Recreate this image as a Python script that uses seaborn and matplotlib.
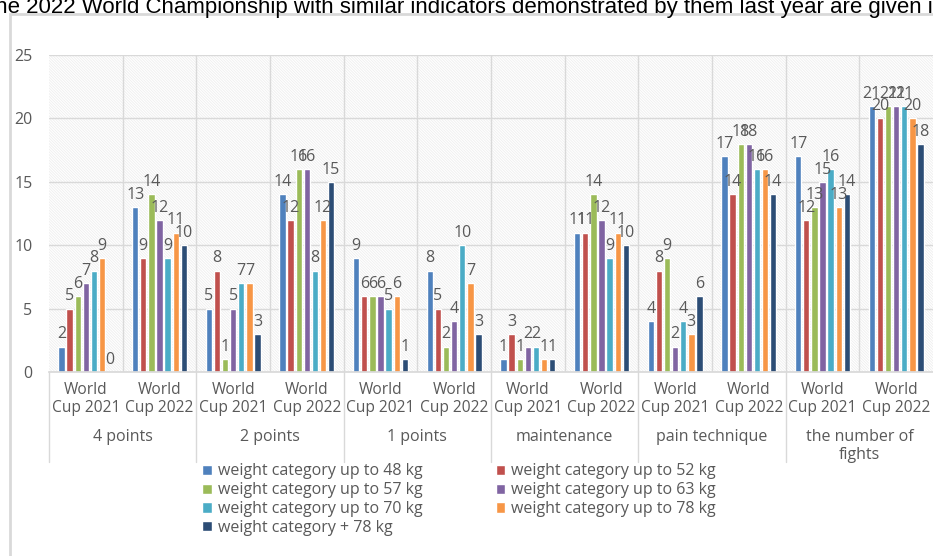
import pandas as pd
import matplotlib.pyplot as plt
import matplotlib.patches as mpatches
import seaborn as sns

# Data
categories = ["4 points", "2 points", "1 points", "maintenance", "pain technique", "the number of\nfights"]
years = ["World\nCup 2021", "World\nCup 2022"]
series = ["weight category up to 48 kg", "weight category up to 52 kg",
          "weight category up to 57 kg", "weight category up to 63 kg",
          "weight category up to 70 kg", "weight category up to 78 kg",
          "weight category + 78 kg"]

# one row per (category, year) group, values in series order
values = [
    [2, 5, 6, 7, 8, 9, 0],
    [13, 9, 14, 12, 9, 11, 10],
    [5, 8, 1, 5, 7, 7, 3],
    [14, 12, 16, 16, 8, 12, 15],
    [9, 6, 6, 6, 5, 6, 1],
    [8, 5, 2, 4, 10, 7, 3],
    [1, 3, 1, 2, 2, 1, 1],
    [11, 11, 14, 12, 9, 11, 10],
    [4, 8, 9, 2, 4, 3, 6],
    [17, 14, 18, 18, 16, 16, 14],
    [17, 12, 13, 15, 16, 13, 14],
    [21, 20, 21, 21, 21, 20, 18],
]

colors = ["#4F81BD", "#C0504D", "#9BBB59", "#8064A2", "#4BACC6", "#F79646", "#2C4D75"]

# long-form table
rows = []
group_ids = []
for i, cat in enumerate(categories):
    for j, yr in enumerate(years):
        gid = f"g{i}_{j}"
        group_ids.append(gid)
        for k, s in enumerate(series):
            rows.append({"group": gid, "series": s, "value": values[i * 2 + j][k]})
df = pd.DataFrame(rows)

sns.set_theme(style="white")
plt.rcParams["font.family"] = ["Open Sans", "DejaVu Sans"]
plt.rcParams["hatch.linewidth"] = 0.6
text_gray = "#595959"
grid_gray = "#d9d9d9"

W, H = 933, 556
fig = plt.figure(figsize=(W / 100, H / 100), dpi=100)
ax = fig.add_axes([49 / W, (H - 372) / H, (W - 49) / W, (372 - 55) / H])

# hatched plot background
ax.patch.set_facecolor("white")
ax.patch.set_hatch("\\" * 12)
ax.patch.set_edgecolor("#eeeeee")
ax.patch.set_linewidth(0)

sns.barplot(data=df, x="group", y="value", hue="series", order=group_ids,
            hue_order=series, palette=colors, width=0.77, gap=0.22,
            saturation=1, ax=ax, legend=True)

for cont in ax.containers:
    ax.bar_label(cont, padding=3, fontsize=11.5, color=text_gray)

ax.set_ylim(0, 25)
ax.set_xlim(-0.5, len(group_ids) - 0.5)
ax.set_yticks(range(0, 26, 5))
ax.set_xlabel("")
ax.set_ylabel("")
ax.tick_params(axis="y", colors=text_gray, labelsize=11.5, length=0, pad=12)
ax.tick_params(axis="x", colors=text_gray, labelsize=11.2, length=0, pad=7)
ax.set_xticks(range(len(group_ids)))
ax.set_xticklabels(years * len(categories), linespacing=1.2)

# gridlines
for yv in range(5, 26, 5):
    ax.axhline(yv, color=grid_gray, lw=1, zorder=0.5)
for xv in range(1, len(group_ids)):
    ax.axvline(xv - 0.5, color=grid_gray, lw=1, zorder=0.5)
ax.set_axisbelow(True)
for sp in ["top", "right", "left"]:
    ax.spines[sp].set_visible(False)
ax.spines["bottom"].set_color(grid_gray)

# category labels and separators below the axis
trans = ax.get_xaxis_transform()
for i, cat in enumerate(categories):
    ax.text(i * 2 + 0.5, -57 / 317, cat, transform=trans, ha="center", va="top",
            fontsize=11.5, color=text_gray, linespacing=1.15)
for i in range(len(categories)):
    ax.plot([i * 2 - 0.5, i * 2 - 0.5], [0, -90 / 317], transform=trans,
            color=grid_gray, lw=1, clip_on=False)

# legend, row-major order in two columns
handles, labels = ax.get_legend_handles_labels()
order = [0, 2, 4, 6, 1, 3, 5]
ax.legend([handles[o] for o in order], [labels[o] for o in order], ncol=2,
          loc="upper left", bbox_to_anchor=(188 / W, (H - 449) / H),
          bbox_transform=fig.transFigure, frameon=False, fontsize=11.5,
          handlelength=0.6, handleheight=0.6, handletextpad=0.35,
          columnspacing=4.6, labelspacing=0.18, labelcolor=text_gray)

# chart border
fig.add_artist(mpatches.Rectangle((10 / W, -0.02), 1.0, (H - 14) / H + 0.02,
                                  transform=fig.transFigure, fill=False,
                                  edgecolor=grid_gray, lw=2))

# cropped heading line above the chart
fig.text(-11 / W, 1 - 13 / H,
         "the 2022 World Championship with similar indicators demonstrated by them last year are given in",
         family="Liberation Sans", fontsize=16, color="black", va="baseline", ha="left")

fig.savefig("out.png", dpi=100)
